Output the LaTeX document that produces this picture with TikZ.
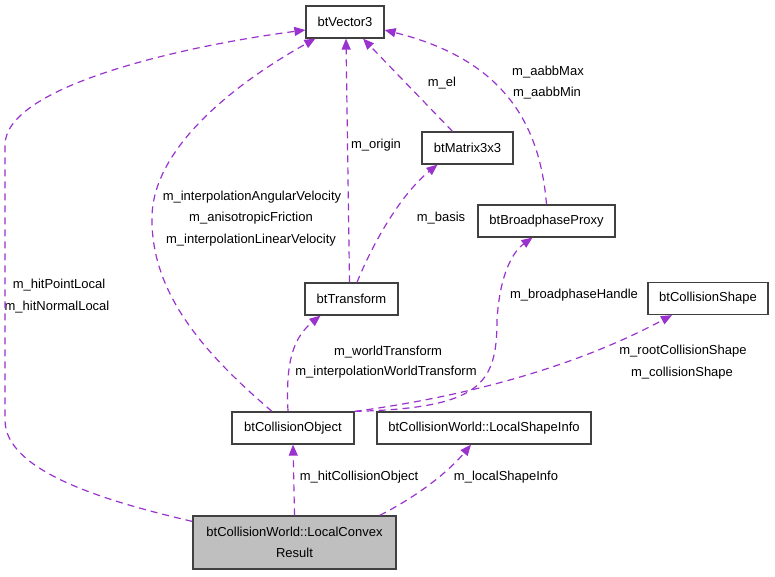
\documentclass[tikz,border=0pt]{standalone}
\usepackage{fontspec}
\setmainfont{Liberation Sans}
\usetikzlibrary{arrows.meta,calc}
\definecolor{edgepurple}{RGB}{154,50,205}
\definecolor{boxgray}{RGB}{64,64,64}
\definecolor{nodefill}{RGB}{191,191,191}
\begin{document}
\begin{tikzpicture}[x=1pt, y=-1pt, font=\fontsize{13}{15}\selectfont,
  main/.style = {draw=boxgray, line width=1.2pt, rectangle, inner xsep=4pt, inner ysep=0pt, minimum height=32pt},
  link/.style = {draw=edgepurple, line width=1.2pt, dash pattern=on 7pt off 5pt, -{Triangle[length=11pt,width=9pt,fill=edgepurple]}},
  lbl/.style = {inner sep=0pt}]
\useasboundingbox (0,0) rectangle (775,576);
\node[main, minimum width=78pt]  (1) at (345,22)    {btVector3};
\node[main, minimum width=91pt]  (2) at (467.5,148) {btMatrix3x3};
\node[main, minimum width=137pt] (3) at (546.5,221) {btBroadphaseProxy};
\node[main, minimum width=93pt]  (4) at (351.5,299) {btTransform};
\node[main, minimum width=120pt] (5) at (708,298.5) {btCollisionShape};
\node[main, minimum width=122pt] (6) at (293,428)   {btCollisionObject};
\node[main, minimum width=214pt] (7) at (484,428)   {btCollisionWorld::LocalShapeInfo};
\node[main, minimum width=203pt, minimum height=53pt, fill=nodefill, align=center] (8) at (294.5,542.5) {btCollisionWorld::LocalConvex\\[6pt]Result};

\node[lbl] (l1a) at (59,285)  {m\_hitPointLocal};
\node[lbl] (l1b) at (57,307)  {m\_hitNormalLocal};
\node[lbl] (l2a) at (252,197) {m\_interpolationAngularVelocity};
\node[lbl] (l2b) at (251,218) {m\_anisotropicFriction};
\node[lbl] (l2c) at (251,240) {m\_interpolationLinearVelocity};
\node[lbl] (l3)  at (376,145) {m\_origin};
\node[lbl] (l4)  at (442,83)  {m\_el};
\node[lbl] (l5a) at (548,72)  {m\_aabbMax};
\node[lbl] (l5b) at (547,93)  {m\_aabbMin};
\node[lbl] (l6)  at (441,218) {m\_basis};
\node[lbl] (l7a) at (388,352) {m\_worldTransform};
\node[lbl] (l7b) at (386,372) {m\_interpolationWorldTransform};
\node[lbl] (l8)  at (574,295) {m\_broadphaseHandle};
\node[lbl] (l9a) at (683,351) {m\_rootCollisionShape};
\node[lbl] (l9b) at (682,373) {m\_collisionShape};
\node[lbl] (l10) at (359,477) {m\_hitCollisionObject};
\node[lbl] (l11) at (506,477) {m\_localShapeInfo};

\draw[link] ($(8.north west)+(0,6)$) .. controls (100,500) and (5,470) .. (5,420) -- (5,145) .. controls (5,85) and (190,45) .. ($(1.west)+(0,8)$);
\draw[link] ($(6.north)+(-21,0)$) .. controls (200,350) and (150,290) .. (152,215) .. controls (155,140) and (250,75) .. ($(1.south west)+(10,0)$);
\draw[link] ($(4.north)+(-2,0)$) -- ($(1.south)+(1,0)$);
\draw[link] ($(2.north)+(-15,0)$) -- ($(1.south)+(18,0)$);
\draw[link] (3.north) .. controls (540,125) and (505,60) .. ($(1.east)+(0,8)$);
\draw[link] ($(4.north)+(5.5,0)$) .. controls (372,245) and (400,195) .. ($(2.south)+(-30,0)$);
\draw[link] ($(6.north)+(-5,0)$) .. controls (286,370) and (290,340) .. ($(4.south)+(-31,0)$);
\draw[link] (6.north east) .. controls (480,408) and (497,385) .. (497,320) .. controls (500,270) and (515,250) .. ($(3.south)+(-14,0)$);
\draw[link] (6.north east) .. controls (440,400) and (560,375) .. ($(5.south)+(-36,0)$);
\draw[link] (8.north) -- (6.south);
\draw[link] ($(8.north east)+(-17,0)$) .. controls (420,495) and (450,470) .. ($(7.south)+(-13,0)$);
\end{tikzpicture}
\end{document}
